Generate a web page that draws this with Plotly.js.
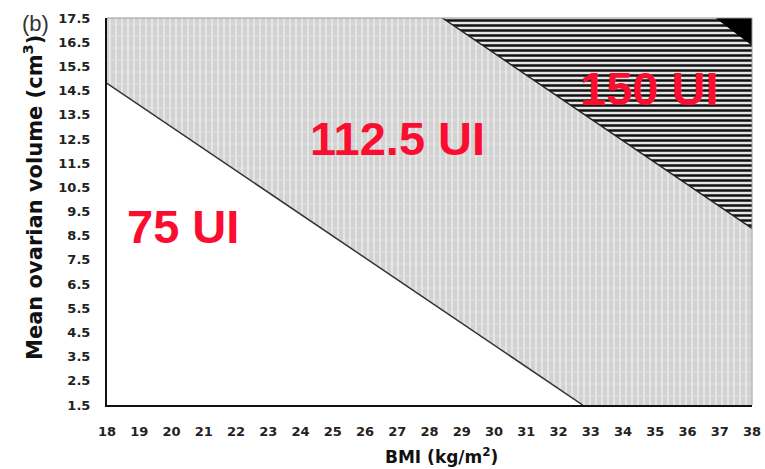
<!DOCTYPE html>
<html>
<head>
<meta charset="utf-8">
<script src="https://cdn.plot.ly/plotly-3.0.1.min.js"></script>
<style>html,body{margin:0;padding:0;background:#fff;}#chart{width:765px;height:469px;}</style>
</head>
<body>
<div id="chart"></div>
<script>
// Axis extents
var bmiRange = [18, 38];
var volRange = [1.5, 17.5];
var xTicks = [18,19,20,21,22,23,24,25,26,27,28,29,30,31,32,33,34,35,36,37,38];
var yTicks = [1.5,2.5,3.5,4.5,5.5,6.5,7.5,8.5,9.5,10.5,11.5,12.5,13.5,14.5,15.5,16.5,17.5];

// Dose boundaries (BMI, volume)
var bmiLow = [18, 32.75];   // 75 / 112.5 UI
var volLow = [14.8, 1.5];
var bmiMid = [28.4, 38];    // 112.5 / 150 UI
var volMid = [17.5, 8.8];
var bmiHigh = [36.9, 38];   // 150 / top dose
var volHigh = [17.5, 16.4];

var doseLabels = ['75 UI', '112.5 UI', '150 UI'];

var x0 = bmiRange[0], x1 = bmiRange[1], y0 = volRange[0], y1 = volRange[1];

// region polygons built from the boundaries and the axis extents
var reg112x = [bmiLow[0], x0, bmiMid[0], bmiMid[1], x1, bmiLow[1], bmiLow[0]];
var reg112y = [volLow[0], y1, volMid[0], volMid[1], y0, volLow[1], volLow[0]];
var reg150x = [bmiMid[0], bmiHigh[0], bmiHigh[1], bmiMid[1], bmiMid[0]];
var reg150y = [volMid[0], volHigh[0], volHigh[1], volMid[1], volMid[0]];
var regTopx = [bmiHigh[0], x1, bmiHigh[1], bmiHigh[0]];
var regTopy = [volHigh[0], y1, volHigh[1], volHigh[0]];

var traces = [
  {x: reg112x, y: reg112y, type: 'scatter', mode: 'lines', fill: 'toself',
   fillcolor: '#d3d3d3', line: {width: 0}, hoverinfo: 'skip',
   fillpattern: {shape: '|', bgcolor: '#d2d2d2', fgcolor: '#ededed', size: 6, solidity: 0.25}},
  {x: reg112x, y: reg112y, type: 'scatter', mode: 'lines', fill: 'toself',
   fillcolor: 'rgba(0,0,0,0)', line: {width: 0}, hoverinfo: 'skip',
   fillpattern: {shape: '-', fillmode: 'overlay', bgcolor: 'rgba(0,0,0,0)', fgcolor: '#e6e6e6', size: 12, solidity: 0.12}},
  {x: reg150x, y: reg150y, type: 'scatter', mode: 'lines', fill: 'toself',
   fillcolor: '#cccccc', line: {width: 0}, hoverinfo: 'skip',
   fillpattern: {shape: '-', bgcolor: '#e6e6e6', fgcolor: '#111111', size: 5, solidity: 0.5}},
  {x: regTopx, y: regTopy, type: 'scatter', mode: 'lines', fill: 'toself',
   fillcolor: '#000000', line: {width: 0}, hoverinfo: 'skip'},
  {x: bmiLow, y: volLow, type: 'scatter', mode: 'lines', line: {color: '#333', width: 1.5}, hoverinfo: 'skip'},
  {x: bmiMid, y: volMid, type: 'scatter', mode: 'lines', line: {color: '#222', width: 1.5}, hoverinfo: 'skip'},
  {x: bmiHigh, y: volHigh, type: 'scatter', mode: 'lines', line: {color: '#000', width: 1.5}, hoverinfo: 'skip'}
];

var red = '#fb0d2f';
var labFont = {family: 'Liberation Sans, Arial, sans-serif', size: 47, color: red, weight: 'bold'};
var tickFont = {family: 'DejaVu Sans, sans-serif', size: 13, color: '#222', weight: 'bold'};
var titleFont = {family: 'DejaVu Sans, sans-serif', size: 21, color: '#111', weight: 'bold'};

var layout = {
  width: 765, height: 469,
  margin: {l: 107, r: 13, t: 18, b: 64},
  paper_bgcolor: '#fff', plot_bgcolor: '#fff',
  showlegend: false,
  xaxis: {
    range: bmiRange, tickvals: xTicks, ticktext: xTicks.map(String),
    showgrid: false, zeroline: false, ticks: '', showline: true, linecolor: '#111', linewidth: 2,
    tickfont: tickFont, ticklabelstandoff: 13
  },
  yaxis: {
    range: volRange, tickvals: yTicks, ticktext: yTicks.map(function(v){return v.toFixed(1);}),
    showgrid: false, zeroline: false, ticks: '', showline: true, linecolor: '#111', linewidth: 2,
    tickfont: tickFont, ticklabelstandoff: 12
  },
  shapes: [
    {type: 'line', xref: 'paper', yref: 'paper', x0: 0, x1: 1, y0: 1, y1: 1, line: {color: '#9a9a9a', width: 1}, layer: 'above'},
    {type: 'line', xref: 'paper', yref: 'paper', x0: 1, x1: 1, y0: 0, y1: 1, line: {color: '#9a9a9a', width: 1}, layer: 'above'}
  ],
  annotations: [
    {x: 20.35, y: 8.9, xref: 'x', yref: 'y', text: doseLabels[0], showarrow: false, font: labFont},
    {x: 27.0, y: 12.5, xref: 'x', yref: 'y', text: doseLabels[1], showarrow: false, font: labFont},
    {x: 34.8, y: 14.6, xref: 'x', yref: 'y', text: doseLabels[2], showarrow: false, font: labFont},
    {x: 0, y: 0.535, xref: 'paper', yref: 'paper', xanchor: 'center', yanchor: 'middle', xshift: -74,
     textangle: -90, text: 'Mean ovarian volume (cm<sup>3</sup>)', showarrow: false, font: titleFont},
    {x: 0.518, y: 0, xref: 'paper', yref: 'paper', xanchor: 'center', yanchor: 'middle', yshift: -51,
     text: 'BMI (kg/m<sup>2</sup>)', showarrow: false,
     font: {family: 'DejaVu Sans, sans-serif', size: 17, color: '#111', weight: 'bold'}},
    {x: 0, y: 1, xref: 'paper', yref: 'paper', xanchor: 'center', yanchor: 'middle',
     xshift: -72, yshift: -5, text: '(b)', showarrow: false,
     font: {family: 'Liberation Sans, Arial, sans-serif', size: 22, color: '#333'}}
  ]
};

Plotly.newPlot('chart', traces, layout, {staticPlot: true, displayModeBar: false});
</script>
</body>
</html>
